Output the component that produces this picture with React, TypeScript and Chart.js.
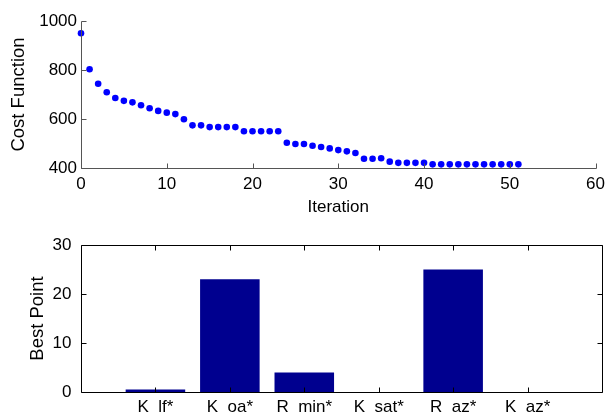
import React, { useEffect, useRef } from 'react';
import { Chart, registerables } from 'chart.js';

Chart.register(...registerables);

// ---- Data ----
const costValues = [
  950, 803, 744, 709, 686, 674, 668, 656, 644, 633,
  626, 620, 599, 574, 574, 567, 567, 567, 567, 550,
  550, 550, 550, 550, 503, 498, 498, 491, 486, 480,
  473, 468, 461, 438, 438, 440, 426, 421, 421, 421,
  421, 415, 415, 415, 415, 415, 415, 415, 415, 415,
  415, 415,
];
const iterTicks = [0, 10, 20, 30, 40, 50, 60];
const costTicks = [400, 600, 800, 1000];

const paramLabels = ['K  lf*', 'K  oa*', 'R  min*', 'K  sat*', 'R  az*', 'K  az*'];
const bestPoint = [0.5, 23, 4, 0, 25, 0];
const paramPositions = [1, 2, 3, 4, 5, 6];
const bestTicks = [0, 10, 20, 30];

const FONT = 'Liberation Sans, Arial, Helvetica, sans-serif';

function makeAxesPlugin(color: string, len: number, box: boolean) {
  return {
    id: 'matlabAxes',
    afterDatasetsDraw(chart: any) {
      const { ctx, chartArea: a, scales } = chart;
      const c = (v: number) => Math.round(v) + 0.5;
      ctx.save();
      ctx.strokeStyle = color;
      ctx.lineWidth = 1;
      ctx.beginPath();
      const l = c(a.left), r = c(a.right), t = c(a.top), b = c(a.bottom);
      if (box) {
        ctx.moveTo(l, t); ctx.lineTo(r, t); ctx.lineTo(r, b); ctx.lineTo(l, b); ctx.closePath();
      } else {
        ctx.moveTo(l, t); ctx.lineTo(l, b); ctx.lineTo(r, b);
      }
      scales.x.ticks.forEach((tk: any) => {
        const px = c(scales.x.getPixelForValue(tk.value));
        ctx.moveTo(px, b); ctx.lineTo(px, b - len);
        if (box) { ctx.moveTo(px, t); ctx.lineTo(px, t + len); }
      });
      scales.y.ticks.forEach((tk: any) => {
        const py = c(scales.y.getPixelForValue(tk.value));
        ctx.moveTo(l, py); ctx.lineTo(l + len, py);
        if (box) { ctx.moveTo(r, py); ctx.lineTo(r - len, py); }
      });
      ctx.stroke();
      ctx.restore();
    },
  };
}

export default function App() {
  const topRef = useRef<HTMLCanvasElement>(null);
  const botRef = useRef<HTMLCanvasElement>(null);

  useEffect(() => {
    const tickFont = { family: FONT, size: 17 };
    const yTitleFont = { family: FONT, size: 18.5 };
    const plain = (v: any) => String(v);

    const top = new Chart(topRef.current!, {
      type: 'scatter',
      data: {
        datasets: [
          {
            data: costValues.map((v, i) => ({ x: i, y: v })),
            backgroundColor: '#0000FF',
            borderColor: '#0000FF',
            pointRadius: 3.3,
            pointBorderWidth: 0,
            showLine: false,
            clip: false as any,
          },
        ],
      },
      options: {
        animation: false,
        responsive: false,
        events: [],
        layout: { padding: { top: 21, right: 9, left: 0, bottom: 0 } },
        plugins: { legend: { display: false }, tooltip: { enabled: false } },
        scales: {
          x: {
            type: 'linear',
            min: 0,
            max: 60,
            afterBuildTicks: (s: any) => { s.ticks = iterTicks.map((v) => ({ value: v })); },
            afterFit: (s: any) => { s.height = 52; },
            grid: { display: false, drawTicks: false },
            border: { display: false },
            ticks: { color: '#000', font: tickFont, padding: 6, maxRotation: 0, autoSkip: false, callback: plain },
            title: { display: true, text: 'Iteration', color: '#000', font: tickFont, padding: { top: 0, bottom: 2 } },
          },
          y: {
            type: 'linear',
            min: 400,
            max: 1000,
            afterBuildTicks: (s: any) => { s.ticks = costTicks.map((v) => ({ value: v })); },
            afterFit: (s: any) => { s.width = 81; },
            grid: { display: false, drawTicks: false },
            border: { display: false },
            ticks: { color: '#000', font: tickFont, padding: 4, autoSkip: false, callback: plain },
            title: { display: true, text: 'Cost Function', color: '#000', font: yTitleFont, padding: { top: 8, bottom: 0 } },
          },
        },
      },
      plugins: [makeAxesPlugin('#555555', 5, false)],
    });

    const bot = new Chart(botRef.current!, {
      type: 'bar',
      data: {
        datasets: [
          {
            data: bestPoint.map((v, i) => ({ x: paramPositions[i], y: v })),
            backgroundColor: '#00008F',
            borderWidth: 0,
            categoryPercentage: 1,
            barPercentage: 0.8,
          },
        ],
      },
      options: {
        animation: false,
        responsive: false,
        events: [],
        layout: { padding: { top: 25, right: 9, left: 0, bottom: 0 } },
        plugins: { legend: { display: false }, tooltip: { enabled: false } },
        scales: {
          x: {
            type: 'linear',
            min: 0,
            max: 7,
            offset: false,
            afterBuildTicks: (s: any) => { s.ticks = paramPositions.map((v) => ({ value: v })); },
            afterFit: (s: any) => { s.height = 22; },
            grid: { display: false, drawTicks: false },
            border: { display: false },
            ticks: {
              color: '#000',
              font: tickFont,
              padding: 5,
              maxRotation: 0,
              autoSkip: false,
              callback: (v: any) => paramLabels[paramPositions.indexOf(Number(v))] ?? '',
            },
          },
          y: {
            type: 'linear',
            min: 0,
            max: 30,
            afterBuildTicks: (s: any) => { s.ticks = bestTicks.map((v) => ({ value: v })); },
            afterFit: (s: any) => { s.width = 81; },
            grid: { display: false, drawTicks: false },
            border: { display: false },
            ticks: { color: '#000', font: tickFont, padding: 9.5, autoSkip: false, callback: plain },
            title: { display: true, text: 'Best Point', color: '#000', font: yTitleFont, padding: { top: 27, bottom: 0 } },
          },
        },
      },
      plugins: [makeAxesPlugin('#000000', 5, true)],
    });

    return () => {
      top.destroy();
      bot.destroy();
    };
  }, []);

  return (
    <div style={{ position: 'absolute', left: 0, top: 0, width: 611, height: 414, background: '#fff' }}>
      <canvas ref={topRef} width={611} height={220} style={{ position: 'absolute', left: 0, top: 0, display: 'block' }} />
      <canvas ref={botRef} width={611} height={194} style={{ position: 'absolute', left: 0, top: 220, display: 'block' }} />
    </div>
  );
}
